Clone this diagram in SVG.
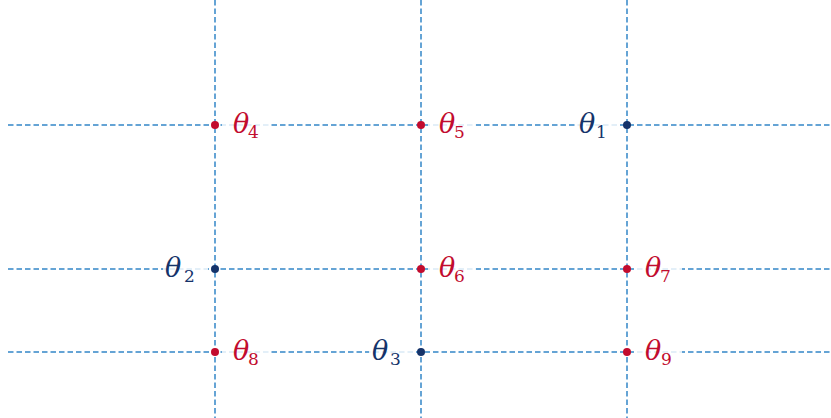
<svg xmlns="http://www.w3.org/2000/svg" width="831" height="418" viewBox="0 0 831 418">
<defs>
<style>
.g{stroke:#3386c8;stroke-width:1.5;stroke-dasharray:5.5,3;fill:none}
.bg{fill:#fff;fill-opacity:0.82}
.r{fill:#c20c2e}
.b{fill:#15336a}
.t{font-family:"DejaVu Serif",serif;font-style:italic;font-size:27px}
.s{font-family:"DejaVu Serif",serif;font-style:normal;font-size:17px}
</style>
</defs>
<g id="connectors">
<line class="g" x1="8" y1="125" x2="831" y2="125"/>
<line class="g" x1="8" y1="269" x2="831" y2="269"/>
<line class="g" x1="8" y1="352" x2="831" y2="352"/>
<line class="g" x1="215" y1="0" x2="215" y2="418"/>
<line class="g" x1="421" y1="0" x2="421" y2="418"/>
<line class="g" x1="627" y1="0" x2="627" y2="418"/>
</g>
<g id="n4"><rect class="bg" x="222" y="112" width="48" height="27"/><circle class="r" cx="215" cy="125" r="4"/><text class="t r" x="233" y="133">θ</text><text class="s r" x="248" y="138">4</text></g>
<g id="n5"><rect class="bg" x="428" y="112" width="48" height="27"/><circle class="r" cx="421" cy="125" r="4"/><text class="t r" x="439" y="133">θ</text><text class="s r" x="454" y="138">5</text></g>
<g id="n1"><rect class="bg" x="575" y="112" width="45" height="27"/><circle class="b" cx="627" cy="125" r="4"/><text class="t b" x="579" y="133">θ</text><text class="s b" x="596" y="138">1</text></g>
<g id="n2"><rect class="bg" x="163" y="256" width="45" height="27"/><circle class="b" cx="215" cy="269" r="4"/><text class="t b" x="165" y="277">θ</text><text class="s b" x="184" y="282">2</text></g>
<g id="n6"><rect class="bg" x="428" y="256" width="48" height="27"/><circle class="r" cx="421" cy="269" r="4"/><text class="t r" x="439" y="277">θ</text><text class="s r" x="454" y="282">6</text></g>
<g id="n7"><rect class="bg" x="634" y="256" width="48" height="27"/><circle class="r" cx="627" cy="269" r="4"/><text class="t r" x="645" y="277">θ</text><text class="s r" x="660" y="282">7</text></g>
<g id="n8"><rect class="bg" x="222" y="339" width="48" height="27"/><circle class="r" cx="215" cy="352" r="4"/><text class="t r" x="233" y="360">θ</text><text class="s r" x="248" y="365">8</text></g>
<g id="n3"><rect class="bg" x="369" y="339" width="45" height="27"/><circle class="b" cx="421" cy="352" r="4"/><text class="t b" x="372" y="360">θ</text><text class="s b" x="390" y="365">3</text></g>
<g id="n9"><rect class="bg" x="634" y="339" width="48" height="27"/><circle class="r" cx="627" cy="352" r="4"/><text class="t r" x="645" y="360">θ</text><text class="s r" x="661" y="365">9</text></g>
</svg>
